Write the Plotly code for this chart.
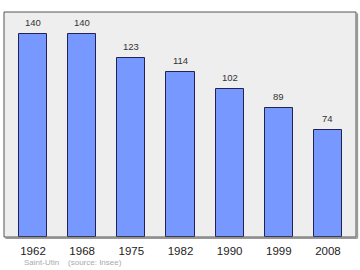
import plotly.graph_objects as go

years = ["1962", "1968", "1975", "1982", "1990", "1999", "2008"]
population = [140, 140, 123, 114, 102, 89, 74]
positions = list(range(len(years)))

fig = go.Figure()
fig.add_trace(go.Bar(
    x=positions, y=population, width=0.57,
    marker=dict(color="#7799ff", line=dict(color="#222255", width=1)),
    hoverinfo="skip",
))

annotations = [
    dict(x=p, y=v, text=str(v), xref="x", yref="y", showarrow=False,
         yanchor="bottom", yshift=4, font=dict(size=9.5, color="#333333"))
    for p, v in zip(positions, population)
]
annotations.append(
    dict(text="Saint-Utin&nbsp;&nbsp;&nbsp;&nbsp;(source: Insee)", xref="paper", yref="paper",
         x=0.052, y=-0.112, xanchor="left", yanchor="middle", showarrow=False,
         font=dict(size=8, color="#aaaaaa"))
)

fig.update_layout(
    width=360, height=270,
    margin=dict(l=4, r=4, t=12, b=33),
    paper_bgcolor="white", plot_bgcolor="#eeeeee",
    showlegend=False, bargap=0,
    font=dict(family="Liberation Sans, Arial"),
    xaxis=dict(range=[-0.59, 6.57], tickvals=positions, ticktext=years,
               showgrid=False, zeroline=False, ticks="", showline=False,
               ticklabelstandoff=5,
               tickfont=dict(size=11.5, color="#222222"), fixedrange=True),
    yaxis=dict(range=[0, 155], showgrid=False, zeroline=False,
               showticklabels=False, ticks="", showline=False, fixedrange=True),
    shapes=[
        dict(type="line", xref="paper", yref="paper", x0=0.004, x1=1.004, y0=-0.006, y1=-0.006,
             line=dict(color="#999999", width=1.5)),
        dict(type="line", xref="paper", yref="paper", x0=1.004, x1=1.004, y0=-0.006, y1=0.994,
             line=dict(color="#999999", width=1.5)),
        dict(type="rect", xref="paper", yref="paper", x0=0, x1=1, y0=0, y1=1,
             line=dict(color="#555555", width=1)),
    ],
    annotations=annotations,
)

fig.write_html("out.html")
